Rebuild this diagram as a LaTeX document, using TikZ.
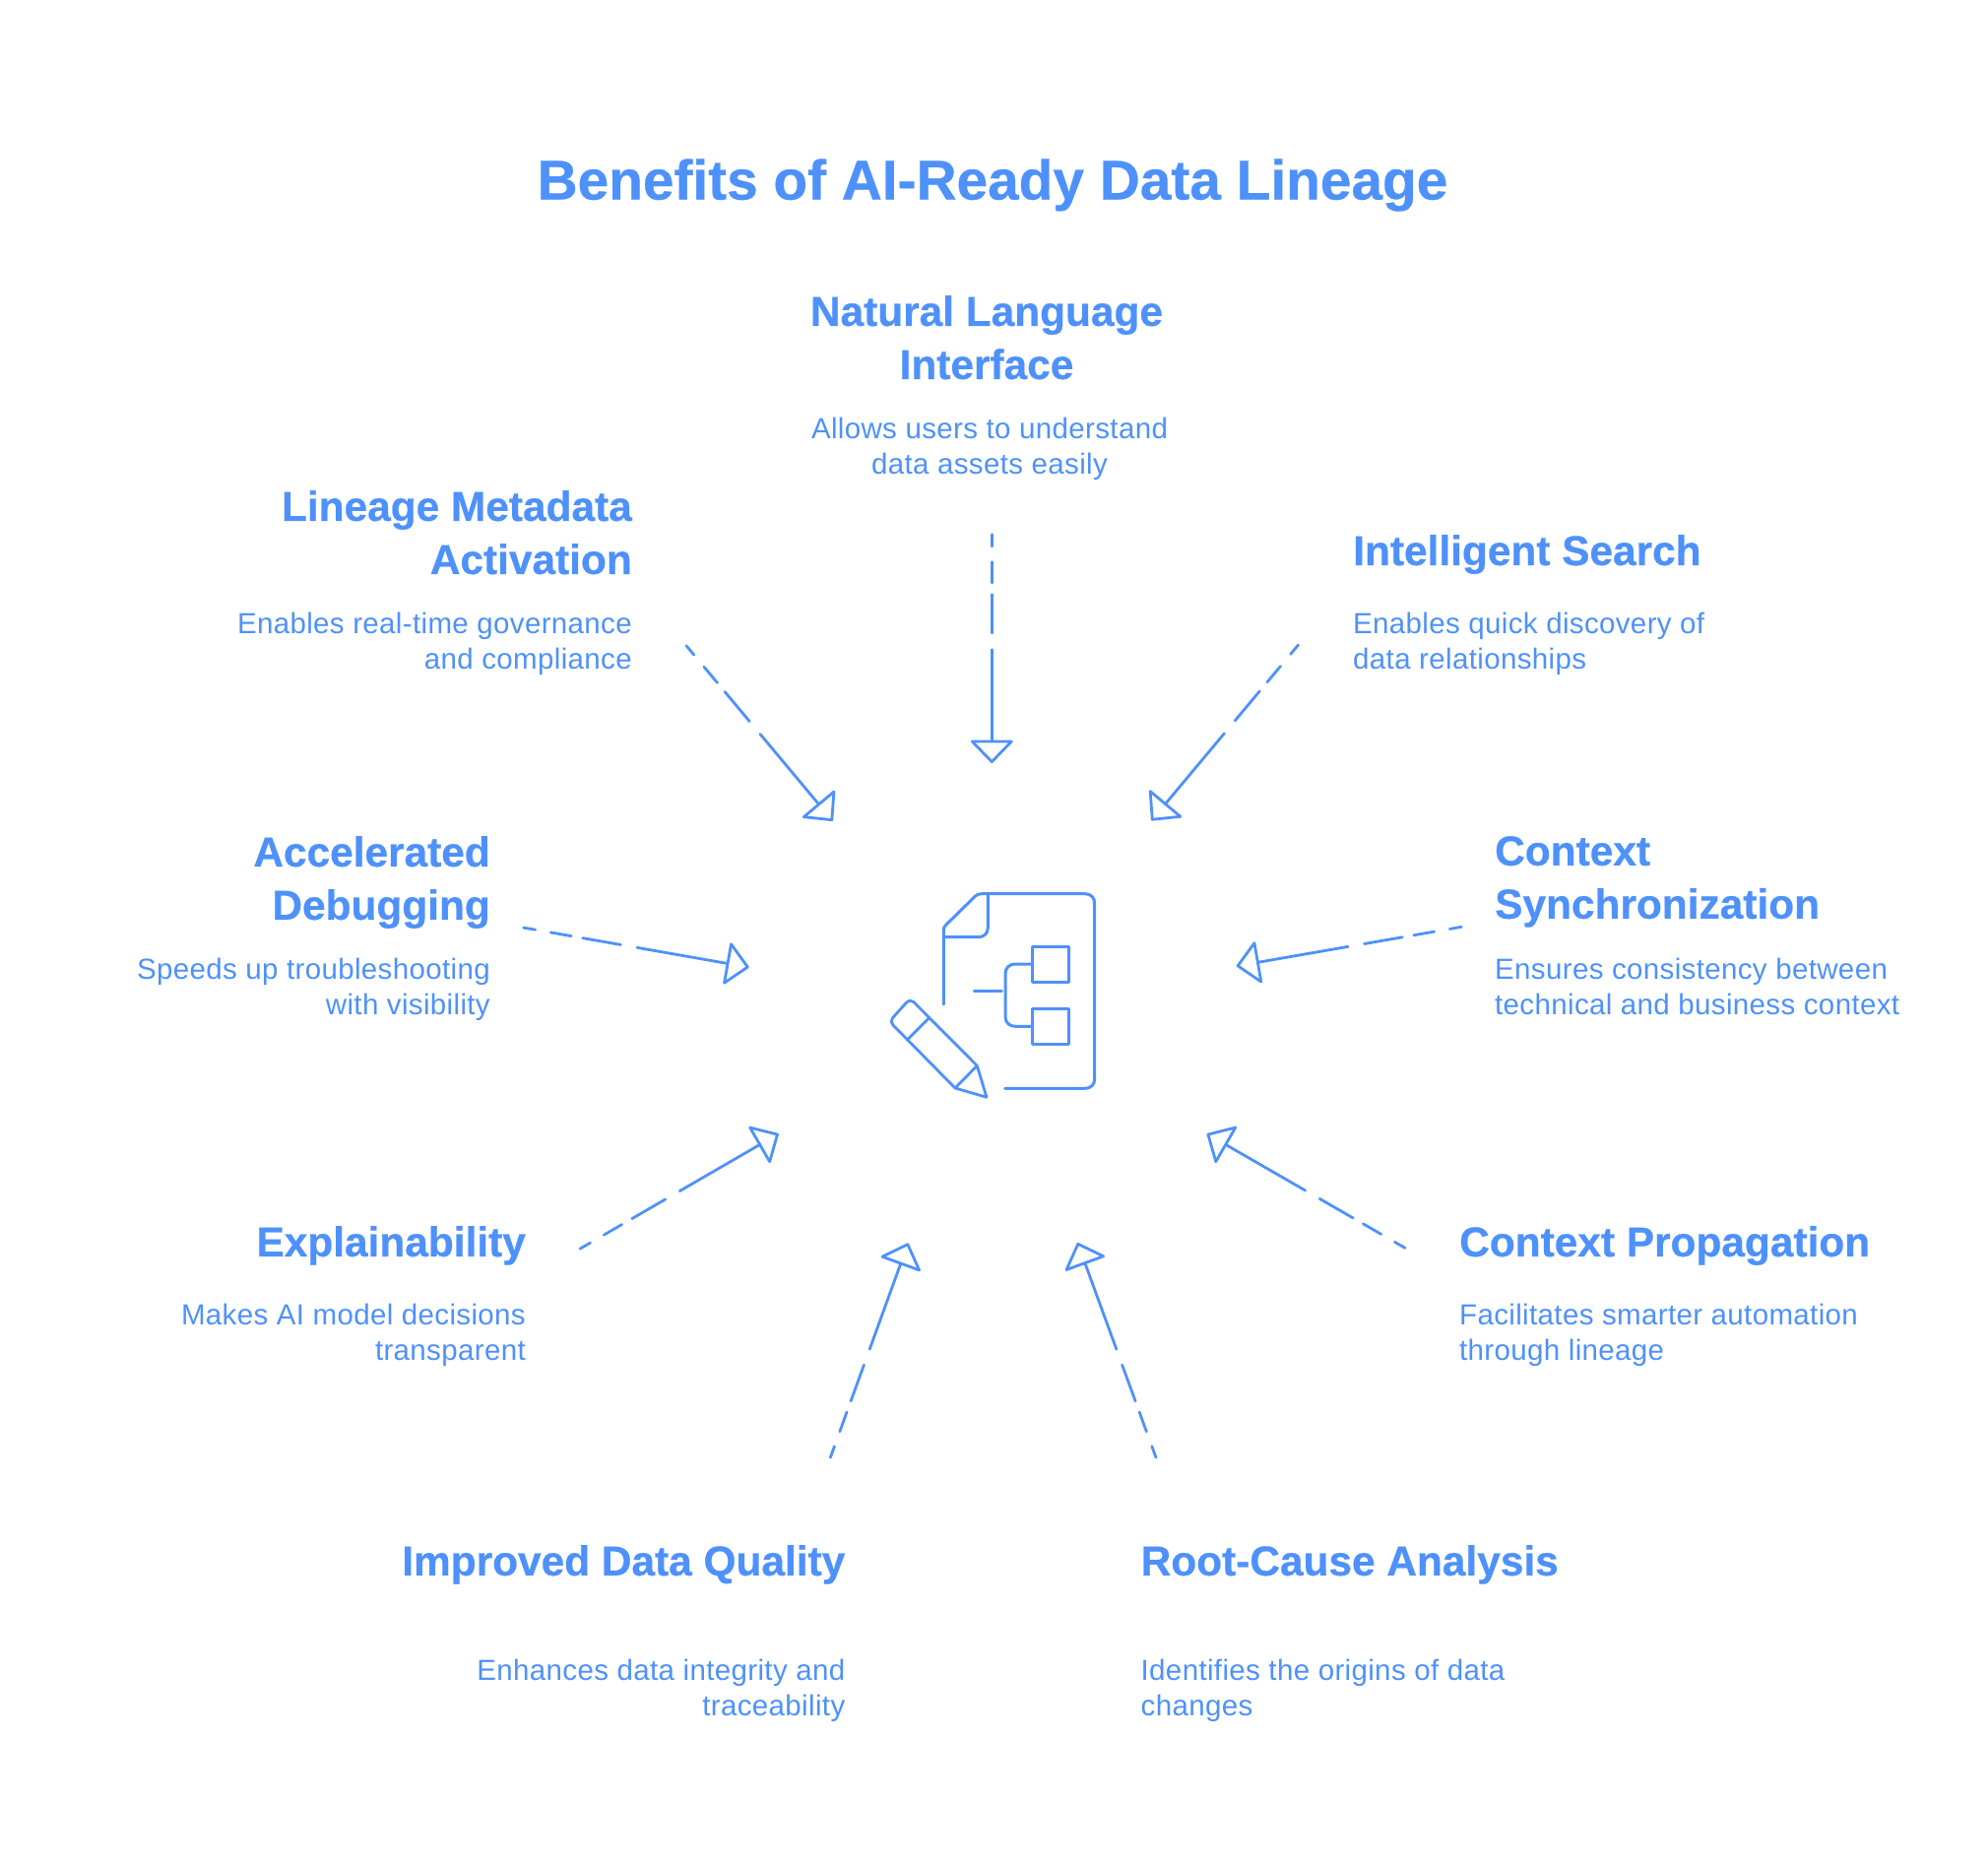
\documentclass[tikz,border=0pt]{standalone}
\usepackage{fontspec}
\setmainfont[BoldFeatures={FakeBold=0.5}]{Liberation Sans}
\newfontfamily\descfont[LetterSpace=1.2]{Liberation Sans}
\usetikzlibrary{arrows.meta}
\definecolor{nb}{RGB}{78,145,250}
\tikzset{
  x=1pt,y=-1pt,
  titletext/.style={inner sep=0pt,text=nb,font=\bfseries\fontsize{56.8}{66}\selectfont},
  headl/.style={inner sep=0pt,text=nb,align=left,anchor=north west,font=\bfseries\fontsize{42.4}{54}\selectfont},
  headr/.style={inner sep=0pt,text=nb,align=right,anchor=north east,font=\bfseries\fontsize{42.4}{54}\selectfont},
  headc/.style={inner sep=0pt,text=nb,align=center,anchor=north,font=\bfseries\fontsize{42.4}{54}\selectfont},
  descl/.style={inner sep=0pt,text=nb,align=left,anchor=north west,font=\descfont\fontsize{29.5}{36}\selectfont},
  descr/.style={inner sep=0pt,text=nb,align=right,anchor=north east,font=\descfont\fontsize{29.5}{36}\selectfont},
  descc/.style={inner sep=0pt,text=nb,align=center,anchor=north,font=\descfont\fontsize{29.5}{36}\selectfont},
  conn/.style={draw=nb,line width=2.8pt,line cap=round,
    dash pattern=on 12.2pt off 15.8pt on 21.2pt off 11.8pt on 39.2pt off 16.8pt on 400pt off 0pt,
    -{Triangle[open,length=24pt,width=46pt,line join=round,round]}},
  icon/.style={draw=nb,line width=3pt,line cap=round,line join=round},
}
\begin{document}
\begin{tikzpicture}
\useasboundingbox (0,0) rectangle (2019,1893);
\node[titletext] (title) at (1008,188) {Benefits of AI-Ready Data Lineage};
% texts
\node[headc] (h1) at (1002,300) {Natural Language\\Interface};
\node[descc] (d1) at (1005,424) {Allows users to understand\\data assets easily};
\node[headr] (h2) at (642,498) {Lineage Metadata\\Activation};
\node[descr] (d2) at (642,622) {Enables real-time governance\\and compliance};
\node[headl] (h3) at (1374,543) {Intelligent Search};
\node[descl] (d3) at (1374,622) {Enables quick discovery of\\data relationships};
\node[headr] (h4) at (498,849) {Accelerated\\Debugging};
\node[descr] (d4) at (498,973) {Speeds up troubleshooting\\with visibility};
\node[headl] (h5) at (1518,849) {Context\\Synchronization};
\node[descl] (d5) at (1518,973) {Ensures consistency between\\technical and business context};
\node[headr] (h6) at (534,1245) {Explainability};
\node[descr] (d6) at (534,1324) {Makes AI model decisions\\transparent};
\node[headl] (h7) at (1482,1245) {Context Propagation};
\node[descl] (d7) at (1482,1324) {Facilitates smarter automation\\through lineage};
\node[headr] (h8) at (858.5,1569) {Improved Data Quality};
\node[descr] (d8) at (858.5,1685) {Enhances data integrity and\\traceability};
\node[headl] (h9) at (1158.5,1569) {Root-Cause Analysis};
\node[descl] (d9) at (1158.5,1685) {Identifies the origins of data\\changes};
% connector ends
\coordinate (s1) at (1007.3,542.7); \coordinate (t1) at (1007.3,775);
\coordinate (s2) at (697,655.7);    \coordinate (t2) at (845.7,833.7);
\coordinate (s3) at (1318.5,655);   \coordinate (t3) at (1169.4,833.3);
\coordinate (s4) at (531.7,942.1);  \coordinate (t4) at (760.7,982.3);
\coordinate (s5) at (1484.3,941.3); \coordinate (t5) at (1255.7,981.1);
\coordinate (s6) at (589,1268.2);   \coordinate (t6) at (790.7,1151.4);
\coordinate (s7) at (1427,1267.4);  \coordinate (t7) at (1225.7,1151.4);
\coordinate (s8) at (843.3,1480.2); \coordinate (t8) at (922.3,1262.4);
\coordinate (s9) at (1174,1480.2);  \coordinate (t9) at (1094.3,1262);
\foreach \i in {1,...,9} {\draw[conn] (s\i) -- (t\i);}
% icon
\draw[icon] (958.3,1020) -- (958.3,945) .. controls (958.3,942) and (959,941) .. (961,939)
  -- (990,910.5) .. controls (992,908.5) and (994,907.7) .. (997,907.7)
  -- (1101.7,907.7) .. controls (1108,907.7) and (1111.7,911.5) .. (1111.7,917.7)
  -- (1111.7,1095.3) .. controls (1111.7,1101.5) and (1108,1105.3) .. (1101.7,1105.3)
  -- (1020.7,1105.3);
\draw[icon] (1003.3,907.7) -- (1003.3,942) .. controls (1003.3,948) and (999.5,951.7) .. (993.3,951.7) -- (958.3,951.7);
\draw[icon] (1048.3,961) rectangle (1085,997.3);
\draw[icon] (1048.3,1024) rectangle (1085,1060.7);
\draw[icon] (1048.3,979) -- (1031,979) .. controls (1025,979) and (1021,983) .. (1021,989)
  -- (1021,1032.3) .. controls (1021,1038.3) and (1025,1042.3) .. (1031,1042.3) -- (1048.3,1042.3);
\draw[icon] (989.3,1006) -- (1017.3,1006);
\draw[icon,line width=2.8pt,rounded corners=5pt] (992.3,1082.3) -- (924.3,1014) -- (903.3,1037.3) -- (970,1105);
\draw[icon,line width=2.8pt] (970,1105) -- (992.3,1082.3) -- (1002,1114.3) -- cycle;
\draw[icon,line width=2.8pt] (943.3,1034) -- (921.7,1055.7);
\end{tikzpicture}
\end{document}
